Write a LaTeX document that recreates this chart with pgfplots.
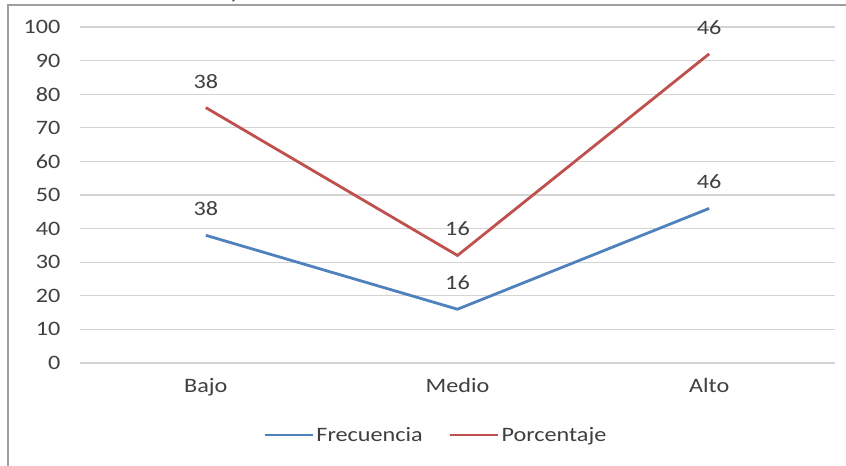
\documentclass[border=0pt]{standalone}
\usepackage{pgfplots}
\pgfplotsset{compat=1.18}
\usepackage{fontspec}
\setmainfont[FakeStretch=1.18]{Carlito}

\definecolor{serieA}{HTML}{4F81BD}
\definecolor{serieB}{HTML}{C0504D}
\definecolor{rejilla}{HTML}{D4D4D4}
\definecolor{texto}{HTML}{404040}

\begin{document}
\begin{tikzpicture}[x=1bp,y=1bp,font=\fontsize{20.5bp}{23bp}\selectfont]
  % marco de la figura (origen = esquina inferior izquierda del area de trazado)
  \path[use as bounding box] (-80,-103) rectangle (766,363);
  \fill[white] (-80,-103) rectangle (766,363);
  \draw[gray!75, line width=1.5bp] (-72,-103) -- (-72,358) -- (766,358);
  % resto del titulo cortado en el borde superior
  \node[anchor=base, inner sep=0pt, text=texto] at (155,364) {y};

  \begin{axis}[
    at={(0,0)}, anchor=south west,
    scale only axis,
    width=755bp, height=336bp,
    xmin=-0.5, xmax=2.5,
    ymin=0, ymax=100,
    ytick={0,10,...,100},
    xtick={0,1,2},
    xticklabels={Bajo,Medio,Alto},
    major tick length=0pt,
    axis line style={draw=none},
    ymajorgrids,
    grid style={rejilla, line width=1.3bp},
    tick label style={text=texto},
    yticklabel style={xshift=-16bp},
    xticklabel style={yshift=-12bp},
    /pgf/number format/assume math mode=true,
    clip=false,
    nodes near coords,
    point meta=explicit symbolic,
    every node near coord/.append style={text=texto, anchor=south, inner sep=0pt, yshift=18bp},
    legend style={at={(0.4715,-0.214)}, anchor=center, draw=none, fill=none,
      legend columns=2, /tikz/every even column/.append style={column sep=24bp},
      text=texto, inner sep=0pt, nodes={inner sep=2bp}},
    legend cell align=left,
    legend image code/.code={\draw[#1, line width=2.8bp] (0bp,0bp) -- (48bp,0bp);},
  ]
    \addplot[serieA, line width=2.8bp, mark=none] coordinates {
      (0,38) [38]
      (1,16) [16]
      (2,46) [46]
    };
    \addlegendentry{Frecuencia}
    \addplot[serieB, line width=2.8bp, mark=none] coordinates {
      (0,76) [38]
      (1,32) [16]
      (2,92) [46]
    };
    \addlegendentry{Porcentaje}
  \end{axis}
\end{tikzpicture}
\end{document}
